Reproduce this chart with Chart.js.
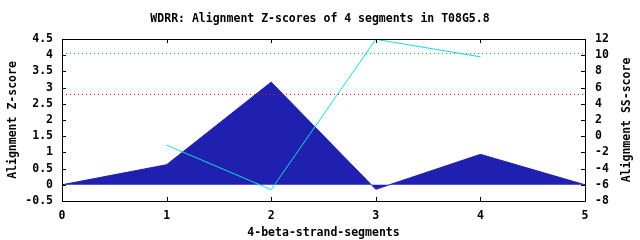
<!DOCTYPE html>
<html>
<head>
<meta charset="utf-8">
<script src="https://cdn.jsdelivr.net/npm/chart.js@4/dist/chart.umd.min.js"></script>
<style>
  body { margin: 0; background: #fff; }
  canvas { display: block; }
</style>
</head>
<body>
<canvas id="chart" width="640" height="240"></canvas>
<script>
// Data
const segments = [0, 1, 2, 3, 4, 5];
const zScores = [0, 0.62, 3.17, -0.14, 0.94, 0];
const ssSegments = [1, 2, 3, 4];
const ssScores = [-1.1, -6.6, 11.96, 9.8];
const cutoffX = [0, 5];
const greenCutoff = 4.05;
const redCutoff = 2.79;

const FONT = 'bold 11.5px "DejaVu Sans Mono"';
const fontObj = { family: '"DejaVu Sans Mono"', size: 11.5, weight: 'bold' };

// gnuplot-like frame with inward ticks, plus the right axis title
const framePlugin = {
    id: 'frame',
    afterDatasetsDraw(chart) {
        const ctx = chart.ctx;
        const a = chart.chartArea;
        const len = 4;
        ctx.save();
        ctx.strokeStyle = '#000';
        ctx.lineWidth = 1;
        ctx.beginPath();
        ctx.rect(Math.round(a.left) + 0.5, Math.round(a.top) + 0.5,
                 Math.round(a.right - a.left), Math.round(a.bottom - a.top));
        const xs = chart.scales.x;
        xs.ticks.forEach(t => {
            const px = Math.round(xs.getPixelForValue(t.value)) + 0.5;
            ctx.moveTo(px, a.bottom); ctx.lineTo(px, a.bottom - len);
            ctx.moveTo(px, a.top); ctx.lineTo(px, a.top + len);
        });
        const ys = chart.scales.y;
        ys.ticks.forEach(t => {
            const py = Math.round(ys.getPixelForValue(t.value)) + 0.5;
            ctx.moveTo(a.left, py); ctx.lineTo(a.left + len, py);
        });
        const y2 = chart.scales.y2;
        y2.ticks.forEach(t => {
            const py = Math.round(y2.getPixelForValue(t.value)) + 0.5;
            ctx.moveTo(a.right, py); ctx.lineTo(a.right - len, py);
        });
        ctx.stroke();
        ctx.restore();
    },
    afterDraw(chart) {
        const ctx = chart.ctx;
        const a = chart.chartArea;
        ctx.save();
        ctx.font = FONT;
        ctx.fillStyle = '#000';
        ctx.textAlign = 'center';
        ctx.textBaseline = 'middle';
        ctx.translate(chart.scales.y2.right - 13.3, (a.top + a.bottom) / 2);
        ctx.rotate(-Math.PI / 2);
        ctx.fillText('Alignment SS-score', 0, 0);
        ctx.restore();
    }
};

const noGrid = { display: false, drawTicks: false, tickLength: 0 };

const ctx = document.getElementById('chart').getContext('2d');
new Chart(ctx, {
    type: 'line',
    data: {
        datasets: [
            {
                label: 'SS-score',
                data: ssSegments.map((x, i) => ({ x: x, y: ssScores[i] })),
                yAxisID: 'y2',
                borderColor: '#11dddd',
                borderWidth: 1,
                pointRadius: 0,
                fill: false,
                order: 1
            },
            {
                label: 'green cutoff',
                data: cutoffX.map(x => ({ x: x, y: greenCutoff })),
                yAxisID: 'y',
                borderColor: '#00c000',
                borderWidth: 1,
                borderDash: [1, 3],
                pointRadius: 0,
                fill: false,
                order: 1
            },
            {
                label: 'red cutoff',
                data: cutoffX.map(x => ({ x: x, y: redCutoff })),
                yAxisID: 'y',
                borderColor: '#ff0000',
                borderWidth: 1,
                borderDash: [1, 3],
                pointRadius: 0,
                fill: false,
                order: 1
            },
            {
                label: 'Z-score',
                data: segments.map((x, i) => ({ x: x, y: zScores[i] })),
                yAxisID: 'y',
                borderColor: '#2020b0',
                backgroundColor: '#2020b0',
                borderWidth: 1,
                pointRadius: 0,
                fill: 'origin',
                order: 3
            }
        ]
    },
    options: {
        responsive: false,
        animation: false,
        layout: { padding: 0 },
        plugins: {
            legend: { display: false },
            tooltip: { enabled: false },
            title: {
                display: true,
                text: 'WDRR: Alignment Z-scores of 4 segments in T08G5.8',
                color: '#000',
                font: fontObj,
                padding: { top: 12, bottom: 13.2 }
            }
        },
        scales: {
            x: {
                type: 'linear',
                min: 0,
                max: 5,
                grid: noGrid,
                border: { display: false },
                ticks: { stepSize: 1, color: '#000', font: fontObj, padding: 8, autoSkip: false, maxRotation: 0 },
                title: { display: true, text: '4-beta-strand-segments', color: '#000', font: fontObj, padding: { top: 0, bottom: 0 } },
                afterFit: s => { s.height = 39; }
            },
            y: {
                position: 'left',
                min: -0.5,
                max: 4.5,
                grid: noGrid,
                border: { display: false },
                ticks: { stepSize: 0.5, color: '#000', font: fontObj, padding: 9, autoSkip: false, callback: v => String(v) },
                title: { display: true, text: 'Alignment Z-score', color: '#000', font: fontObj, padding: { top: 6.6, bottom: 0 } },
                afterFit: s => { s.width = 62; }
            },
            y2: {
                position: 'right',
                min: -8,
                max: 12,
                grid: noGrid,
                border: { display: false },
                ticks: { stepSize: 2, color: '#000', font: fontObj, padding: 10, autoSkip: false, callback: v => String(v) },
                title: { display: false, text: 'Alignment SS-score' },
                afterFit: s => { s.width = 55; }
            }
        }
    },
    plugins: [framePlugin]
});
</script>
</body>
</html>
